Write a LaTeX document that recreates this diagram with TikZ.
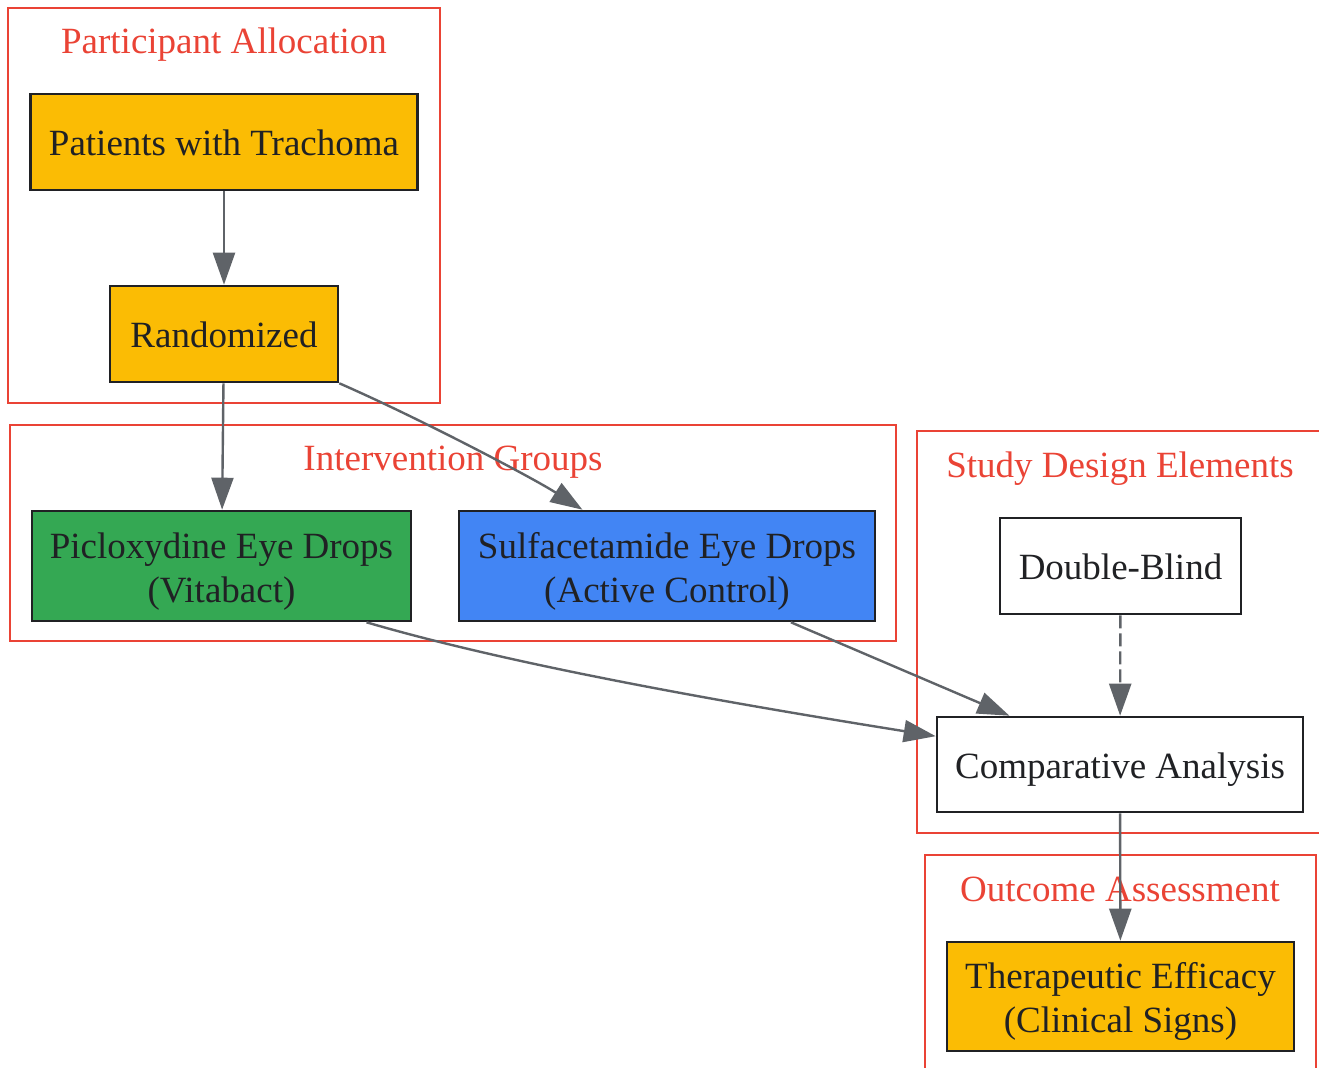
\documentclass[tikz,border=0pt]{standalone}
\usepackage{fontspec}
\setmainfont{Liberation Serif}
\usetikzlibrary{arrows.meta,calc}
\definecolor{gyellow}{HTML}{FBBC04}
\definecolor{ggreen}{HTML}{34A853}
\definecolor{gblue}{HTML}{4285F4}
\definecolor{gred}{HTML}{EA4335}
\definecolor{edgegray}{HTML}{5F6368}
\definecolor{inkdark}{HTML}{202124}
\def\lift{\rule{0pt}{18.4pt}}

\begin{document}
\begin{tikzpicture}[x=0.5pt,y=-0.5pt,
	box/.style={draw=inkdark, line width=1.3pt, text=inkdark, inner sep=0pt, align=center,
		font=\fontsize{18.5}{22}\selectfont},
	oneline/.style={text height=16pt, text depth=2pt},
	cluster/.style={draw=gred, line width=1pt},
	clustertitle/.style={text=gred, anchor=base, inner sep=0pt, font=\fontsize{18.5}{22}\selectfont},
	edge/.style={draw=edgegray, line width=1.2pt, -{Triangle[length=16pt,width=11pt]}}]
			%%%%% START %%%%%
			\useasboundingbox (0, 0) rectangle (1319, 1068);
			\clip (0, 0) rectangle (1319, 1068);
			
			\draw[cluster] (8, 8) rectangle (440, 403);
			\node[clustertitle] (allocT) at (224, 54) {Participant Allocation};
			\draw[cluster] (10, 425) rectangle (896, 641);
			\node[clustertitle] (groupsT) at (453, 471) {Intervention Groups};
			\draw[cluster] (917, 431) rectangle (1330, 833);
			\node[clustertitle] (designT) at (1120, 478) {Study Design Elements};
			\draw[cluster] (925, 855) rectangle (1316, 1080);
			\node[clustertitle] (outcomeT) at (1120, 902) {Outcome Assessment};
			
			\node[box, oneline, fill=gyellow, minimum width=193.5pt, minimum height=48pt] (patients) at (224, 142) {Patients with Trachoma};
			\node[box, oneline, fill=gyellow, minimum width=114pt, minimum height=48pt] (rand) at (224, 334) {Randomized};
			
			\node[box, fill=ggreen, minimum width=189.5pt, minimum height=55pt] (picl) at (221.5, 566) {\lift Picloxydine Eye Drops\\(Vitabact)};
			\node[box, fill=gblue, minimum width=208pt, minimum height=55pt] (sulfa) at (667, 566) {\lift Sulfacetamide Eye Drops\\(Active Control)};
			
			\node[box, oneline, fill=white, minimum width=120.5pt, minimum height=48pt] (blind) at (1120.5, 566) {Double-Blind};
			\node[box, oneline, fill=white, minimum width=183pt, minimum height=47.5pt] (comp) at (1120, 764.5) {Comparative Analysis};
			
			\node[box, fill=gyellow, minimum width=173.5pt, minimum height=54.5pt] (thera) at (1120.5, 996.5) {\lift Therapeutic Efficacy\\(Clinical Signs)};
			
			\draw[edge] (patients) -- (rand);
			\draw[edge] (rand) -- (picl);
			\draw[edge] (rand.south east) .. controls +(80, 35) and +(-50, -32) .. ($(sulfa.north west)!0.298!(sulfa.north east)$);
			\draw[edge] ($(picl.south west)!0.88!(picl.south east)$) .. controls +(150, 44) and +(-200, -32) .. ($(comp.north west)!0.21!(comp.south west)$);
			\draw[edge] ($(sulfa.south west)!0.796!(sulfa.south east)$) -- ($(comp.north west)!0.2!(comp.north east)$);
			\draw[edge, dash pattern=on 6.5pt off 2.5pt] (blind) -- (comp);
			\draw[edge] (comp) -- (thera);
			%%%%% END %%%%%
\end{tikzpicture}
\end{document}
